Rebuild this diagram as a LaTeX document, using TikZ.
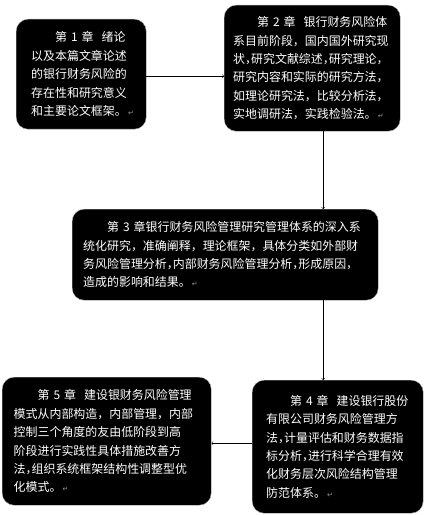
\documentclass[tikz,border=0pt]{standalone}
\usepackage{fontspec}
\setmainfont{Noto Sans CJK SC}
\newfontfamily\symfont{DejaVu Sans}
\usepackage{tikz}
\newcommand{\pmark}{{\symfont\color{gray!80}\scriptsize\,↵}}
\newcommand{\hc}{\makebox[0.5em][l]{，}}

\begin{document}
\begin{tikzpicture}[x=1bp,y=-1bp,
    chapbox/.style={draw=gray!70, fill=black, text=white, rounded corners=12bp,
      align=left, anchor=north west, inner xsep=0pt, inner ysep=0pt,
      font=\fontsize{12}{18.5}\selectfont}]
  \useasboundingbox (0,0) rectangle (430,515);
  \node[chapbox, minimum width=130bp, minimum height=110bp, text width=100bp] (b1) at (16,19)
    {\hspace*{2em}第 1 章~~绪论\\以及本篇文章论述\\的银行财务风险的\\存在性和研究意义\\和主要论文框架。\pmark};
  \node[chapbox, minimum width=176bp, minimum height=126bp, text width=158bp] (b2) at (224,5)
    {\hspace*{2em}第 2 章~~银行财务风险体\\系目前阶段，国内国外研究现\\状\hc 研究文献综述\hc 研究理论，\\研究内容和实际的研究方法，\\如理论研究法，比较分析法，\\实地调研法，实践检验法。\pmark};
  \node[chapbox, minimum width=306bp, minimum height=91bp, text width=284bp] (b3) at (72,209)
    {\hspace*{2em}第 3 章银行财务风险管理研究管理体系的深入系\\统化研究，准确阐释，理论框架，具体分类如外部财\\务风险管理分析\hc 内部财务风险管理分析\hc 形成原因，\\造成的影响和结果。\pmark};
  \node[chapbox, minimum width=171bp, minimum height=133bp, text width=143bp] (b4) at (252,380)
    {\hspace*{2em}第 4 章~~建设银行股份\\有限公司财务风险管理方\\法\hc 计量评估和财务数据指\\标分析\hc 进行科学合理有效\\化财务层次风险结构管理\\防范体系。\pmark};
  \node[chapbox, minimum width=209bp, minimum height=128bp, text width=186bp] (b5) at (2,377)
    {\hspace*{2em}第 5 章~~建设银财务风险管理\\模式从内部构造，内部管理，内部\\控制三个角度的友由低阶段到高\\阶段进行实践性具体措施改善方\\法\hc 组织系统框架结构性调整型优\\化模式。\pmark};
  % connectors
  \draw[->] ([yshift=-2bp]b1.east) -- ([yshift=-2bp]b1.east -| b2.west);
  \draw[->] ([xshift=11bp]b2.south) -- ([xshift=11bp]b2.south |- b3.north);
  \draw[->] ([xshift=11bp]b2.south |- b3.south) -- ([xshift=11bp]b2.south |- b4.north);
  \draw[->] ([yshift=3.5bp]b4.west) -- ([yshift=3.5bp]b4.west -| b5.east);
\end{tikzpicture}
\end{document}
